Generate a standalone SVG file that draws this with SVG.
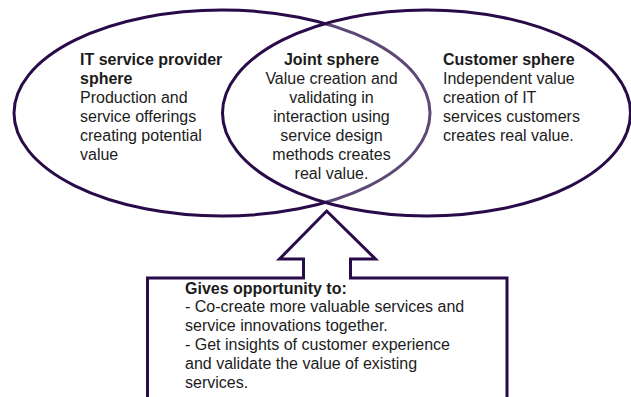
<svg xmlns="http://www.w3.org/2000/svg" width="631" height="397" viewBox="0 0 631 397">
<style>
.sh{stroke:#280b48;stroke-width:3;}
text{font-family:"Liberation Sans",Arial,sans-serif;font-size:16px;fill:#1c1c1c;}
.b{font-weight:bold;}
</style>
<rect width="631" height="397" fill="#ffffff"/>
<g id="provider">
<ellipse class="sh" cx="222" cy="113" rx="208" ry="103" fill="none"/>
</g>
<g id="customer">
<ellipse class="sh" cx="426.5" cy="113" rx="204" ry="103" fill="#ffffff" fill-opacity="0.25"/>
</g>
<g id="provider-text">
<text x="80" y="65" class="b">IT service provider</text>
<text x="80" y="84" class="b">sphere</text>
<text x="80" y="103">Production and</text>
<text x="80" y="122">service offerings</text>
<text x="80" y="141">creating potential</text>
<text x="80" y="160">value</text>
</g>
<g id="joint" text-anchor="middle">
<text x="331.5" y="65" class="b">Joint sphere</text>
<text x="331.5" y="84">Value creation and</text>
<text x="331.5" y="103">validating in</text>
<text x="331.5" y="122">interaction using</text>
<text x="331.5" y="141">service design</text>
<text x="331.5" y="160">methods creates</text>
<text x="331.5" y="179">real value.</text>
</g>
<g id="customer-text">
<text x="443" y="65" class="b">Customer sphere</text>
<text x="443" y="84">Independent value</text>
<text x="443" y="103">creation of IT</text>
<text x="443" y="122">services customers</text>
<text x="443" y="141">creates real value.</text>
</g>
<g id="opportunity">
<path class="sh" fill="#ffffff" stroke-linejoin="miter" d="M147.5,402 L147.5,278 L303.5,278 L303.5,259 L279.5,259 L326.7,211 L375.5,259 L350.5,259 L350.5,278 L507,278 L507,402"/>
<text x="185" y="293.5" class="b">Gives opportunity to:</text>
<text x="185" y="312.3">- Co-create more valuable services and</text>
<text x="185" y="331.1">service innovations together.</text>
<text x="185" y="349.9">- Get insights of customer experience</text>
<text x="185" y="368.7">and validate the value of existing</text>
<text x="185" y="387.5">services.</text>
</g>
<g id="connectors"></g>
</svg>
